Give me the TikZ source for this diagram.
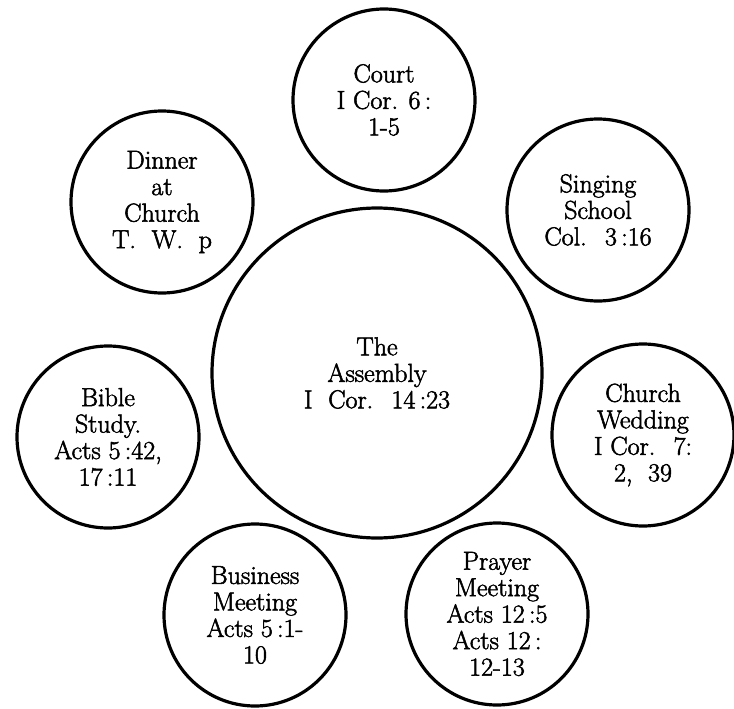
\documentclass[tikz,border=0pt]{standalone}
\usepackage{fontspec}
\newfontfamily\goudy{Latin Modern Roman}[FakeBold=2]
\begin{document}
\begin{tikzpicture}[x=1pt,y=-1pt,
  bubble/.style={circle,draw,line width=3.2pt,inner sep=0pt,align=center,
    font=\goudy\fontsize{26}{26.5}\selectfont},
  small/.style={bubble,minimum size=182pt},
  big/.style={bubble,minimum size=330pt}]
\useasboundingbox (0,0) rectangle (734,709);
\node[big]   (assembly) at (377,373) {The\\Assembly\\I~ Cor.~ 14\,:23};
\node[small] (court)    at (384,100) {Court\\I Cor. 6\,:\\1-5};
\node[small] (dinner)   at (162,202) {Dinner\\at\\Church\\T.~ W.~ p};
\node[small] (singing)  at (598,210) {Singing\\School\\Col.~ 3\,:16};
\node[small] (bible)    at (108,437) {Bible\\Study.\\Acts 5\,:42,\\17\,:11};
\node[small] (wedding)  at (643,435) {Church\\Wedding\\I Cor.~ 7:\\2,~ 39};
\node[small] (business) at (255,615) {Business\\Meeting\\Acts 5\,:1-\\10};
\node[small] (prayer)   at (497,614) {Prayer\\Meeting\\Acts 12\,:5\\Acts 12\,:\\12-13};
\end{tikzpicture}
\end{document}
